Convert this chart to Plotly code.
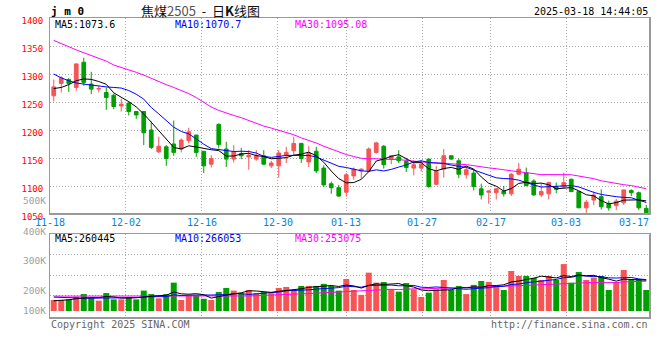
import plotly.graph_objects as go

# ---------------- data ----------------
tick_index = [0, 10, 20, 30, 39, 49, 58, 68, 78]
tick_labels = ["11-18", "12-02", "12-16", "12-30", "01-13", "01-27", "02-17", "03-03", "03-17"]

opens = [1261, 1283, 1290, 1276, 1321, 1282, 1273, 1267, 1262, 1243,
         1248, 1233, 1233, 1200, 1161, 1170, 1175, 1166, 1181, 1191,
         1162, 1139, 1210, 1166, 1148, 1158, 1152, 1148, 1154, 1136,
         1136, 1155, 1163, 1176, 1143, 1162, 1132, 1104, 1097, 1089,
         1118, 1127, 1127, 1160, 1171, 1148, 1152, 1144, 1132, 1132,
         1148, 1103, 1130, 1154, 1145, 1120, 1123, 1095, 1089, 1088,
         1091, 1086, 1121, 1124, 1109, 1084, 1086, 1099, 1098, 1112,
         1090, 1061, 1075, 1081, 1069, 1065, 1070, 1092, 1088, 1060]
highs = [1290, 1296, 1293, 1319, 1329, 1304, 1279, 1276, 1265, 1256,
         1251, 1233, 1233, 1215, 1188, 1173, 1217, 1185, 1204, 1191,
         1162, 1155, 1212, 1179, 1173, 1168, 1164, 1164, 1164, 1145,
         1164, 1170, 1188, 1177, 1171, 1170, 1137, 1108, 1102, 1123,
         1133, 1132, 1169, 1179, 1173, 1155, 1164, 1149, 1146, 1146,
         1149, 1136, 1166, 1155, 1149, 1135, 1129, 1104, 1092, 1096,
         1100, 1123, 1141, 1133, 1112, 1105, 1108, 1106, 1124, 1113,
         1090, 1075, 1090, 1094, 1074, 1077, 1093, 1094, 1090, 1066]
lows = [1251, 1267, 1268, 1270, 1279, 1264, 1267, 1236, 1237, 1233,
        1226, 1220, 1173, 1166, 1159, 1136, 1154, 1160, 1176, 1152,
        1123, 1133, 1167, 1134, 1142, 1148, 1129, 1145, 1137, 1132,
        1115, 1141, 1154, 1141, 1134, 1123, 1098, 1086, 1081, 1081,
        1111, 1113, 1126, 1158, 1131, 1139, 1141, 1125, 1119, 1126,
        1097, 1102, 1115, 1147, 1114, 1113, 1092, 1076, 1068, 1076,
        1081, 1082, 1120, 1099, 1083, 1080, 1076, 1087, 1096, 1089,
        1061, 1052, 1066, 1058, 1056, 1057, 1066, 1082, 1057, 1050]
closes = [1277, 1293, 1283, 1318, 1285, 1273, 1274, 1258, 1242, 1246,
          1233, 1227, 1195, 1169, 1171, 1149, 1160, 1182, 1197, 1160,
          1136, 1149, 1174, 1148, 1161, 1154, 1155, 1154, 1139, 1141,
          1159, 1160, 1176, 1149, 1158, 1127, 1102, 1097, 1082, 1120,
          1130, 1130, 1166, 1177, 1138, 1154, 1145, 1133, 1138, 1139,
          1099, 1126, 1154, 1148, 1121, 1129, 1099, 1084, 1091, 1095,
          1086, 1121, 1130, 1101, 1084, 1090, 1106, 1094, 1106, 1090,
          1061, 1071, 1084, 1063, 1061, 1073, 1093, 1088, 1061, 1052]

ma5 = [1274, 1276, 1281, 1288, 1291.2, 1290.4, 1286.6, 1281.6, 1266.4, 1258.6,
       1250.6, 1241.2, 1228.6, 1214.0, 1199.0, 1182.2, 1168.8, 1166.2, 1171.8, 1169.6,
       1167.0, 1164.8, 1163.2, 1153.4, 1153.6, 1157.2, 1158.4, 1154.4, 1152.6, 1148.6,
       1149.6, 1150.6, 1155.0, 1157.0, 1160.4, 1154.0, 1142.4, 1126.6, 1113.2, 1105.6,
       1106.2, 1111.8, 1125.6, 1144.6, 1148.2, 1153.0, 1156.0, 1149.4, 1141.6, 1141.8,
       1130.8, 1127.0, 1131.2, 1133.2, 1129.6, 1135.6, 1130.2, 1116.2, 1104.8, 1099.6,
       1091.0, 1095.4, 1104.6, 1106.6, 1104.4, 1105.2, 1102.2, 1095.0, 1096.0, 1097.2,
       1091.4, 1084.4, 1082.4, 1073.8, 1068.0, 1070.4, 1074.8, 1075.6, 1075.2, 1073.4]
ma10 = [1300, 1293, 1288, 1284, 1282, 1280, 1279, 1277, 1276, 1274.9,
        1270.5, 1263.9, 1255.1, 1240.2, 1228.8, 1216.4, 1205.0, 1197.4, 1192.9, 1184.3,
        1174.6, 1166.8, 1164.7, 1162.6, 1161.6, 1162.1, 1161.6, 1158.8, 1153.0, 1151.1,
        1153.4, 1154.5, 1154.7, 1154.8, 1154.5, 1151.8, 1146.5, 1140.8, 1135.1, 1133.0,
        1130.1, 1127.1, 1126.1, 1128.9, 1126.9, 1129.6, 1133.9, 1137.5, 1143.1, 1145.0,
        1141.9, 1141.5, 1140.3, 1137.4, 1135.7, 1133.2, 1128.6, 1123.7, 1119.0, 1114.6,
        1113.3, 1112.8, 1110.4, 1105.7, 1102.0, 1098.1, 1098.8, 1099.8, 1101.3, 1100.8,
        1098.3, 1093.3, 1088.7, 1084.9, 1082.6, 1080.9, 1079.6, 1079.0, 1074.5, 1070.7]
ma30 = [1360, 1354, 1348, 1343, 1338, 1333, 1328, 1323, 1316, 1312,
        1307, 1303, 1298, 1292, 1286, 1281, 1276, 1271, 1265, 1258,
        1249, 1241, 1235, 1230, 1226, 1222, 1217, 1211, 1207, 1203.4,
        1199.5, 1195.1, 1191.5, 1185.9, 1181.6, 1176.8, 1171.0, 1165.7, 1160.3, 1156.1,
        1152.7, 1149.5, 1148.5, 1148.8, 1147.7, 1147.8, 1147.3, 1145.7, 1143.7, 1143.0,
        1141.8, 1141.0, 1140.4, 1140.4, 1139.0, 1138.2, 1136.3, 1134.0, 1132.4, 1130.9,
        1128.4, 1127.1, 1125.6, 1124.0, 1121.5, 1120.3, 1120.4, 1120.3, 1121.1, 1120.1,
        1117.8, 1115.9, 1113.1, 1109.3, 1106.8, 1104.1, 1102.3, 1100.8, 1098.3, 1095.1]

volume = [78, 78, 81, 94, 107, 89, 75, 112, 81, 81,
          91, 81, 124, 107, 86, 107, 163, 78, 98, 98,
          84, 78, 117, 137, 124, 111, 127, 111, 117, 111,
          137, 142, 127, 147, 147, 147, 157, 147, 124, 181,
          127, 103, 212, 163, 166, 132, 119, 161, 130, 93,
          114, 130, 176, 127, 147, 107, 152, 171, 166, 147,
          127, 220, 196, 196, 186, 176, 196, 176, 254, 163,
          215, 176, 187, 196, 127, 166, 225, 176, 181, 127]          # thousands
vol_ma5 = [74, 76, 79, 84, 87.6, 89.8, 89.2, 95.4, 92.8, 87.6,
           88.0, 89.2, 91.6, 96.8, 97.8, 101.0, 117.4, 108.2, 106.4, 108.8,
           104.2, 87.2, 95.0, 102.8, 108.0, 113.4, 123.2, 122.0, 118.0, 115.4,
           120.6, 123.6, 126.8, 132.8, 140.0, 142.0, 145.0, 149.0, 144.4, 151.2,
           147.2, 136.4, 149.4, 157.2, 154.2, 155.2, 158.4, 148.2, 141.6, 127.0,
           123.4, 125.6, 128.6, 128.0, 138.8, 137.4, 141.8, 140.8, 148.6, 148.6,
           152.6, 166.2, 171.2, 177.2, 185.0, 194.8, 190.0, 186.0, 197.6, 193.0,
           200.8, 196.8, 199.0, 187.4, 180.2, 170.4, 180.2, 178.0, 175.0, 175.0]
vol_ma10 = [92, 90, 88, 87, 87, 87, 87, 87, 87, 87.6,
            88.9, 89.2, 93.5, 94.8, 92.7, 94.5, 103.3, 99.9, 101.6, 103.3,
            102.6, 102.3, 101.6, 104.6, 108.4, 108.8, 105.2, 108.5, 110.4, 111.7,
            117.0, 123.4, 124.4, 125.4, 127.7, 131.3, 134.3, 137.9, 138.6, 145.6,
            144.6, 140.7, 149.2, 150.8, 152.7, 151.2, 147.4, 148.8, 149.4, 140.6,
            139.3, 142.0, 138.4, 134.8, 132.9, 130.4, 133.7, 134.7, 138.3, 143.7,
            145.0, 154.0, 156.0, 162.9, 166.8, 173.7, 178.1, 178.6, 187.4, 189.0,
            197.8, 193.4, 192.5, 192.5, 186.6, 185.6, 188.5, 188.5, 181.2, 177.6]
vol_ma30 = [97, 97, 97, 97, 97, 97, 97, 97, 97, 97,
            96, 96, 96, 96, 96, 96, 96, 96, 95, 95,
            95, 95, 96, 96, 97, 97, 98, 99, 100, 100.9,
            102.8, 105.0, 106.5, 108.3, 109.6, 111.5, 114.3, 115.4, 116.9, 120.2,
            121.4, 122.1, 125.1, 126.9, 129.6, 130.4, 129.0, 131.7, 132.8, 132.6,
            133.6, 135.4, 137.3, 137.0, 137.8, 137.6, 138.5, 140.5, 142.1, 143.3,
            143.0, 145.6, 147.9, 149.5, 150.8, 151.8, 153.1, 154.0, 158.4, 157.8,
            160.7, 163.1, 162.3, 163.4, 162.1, 163.2, 166.8, 167.3, 169.0, 170.1]

price_ticks = [1050, 1100, 1150, 1200, 1250, 1300, 1350, 1400]
vol_ticks = [100, 200, 300, 400]
vol_tick_labels = ["500K", "400K", "300K", "200K", "100K"]
vol_base = 24

ma_labels = ["MA5:1073.6", "MA10:1070.7", "MA30:1095.08"]
vol_ma_labels = ["MA5:260445", "MA10:266053", "MA30:253075"]

# ---------------- style ----------------
RED = "#F55555"
GREEN = "#009F00"
GRID = "#A8A8A8"
BORDER = "#999999"
MONO = "DejaVu Sans Mono"
W, H = 660, 360
L, R, T, B = 50, 650, 18, 318

def fx(px):
    return (px - L) / (R - L)

def fy(py):
    return (B - py) / (B - T)

idx = list(range(len(closes)))
grid_x = [i * len(closes) / (len(closes) - 1) - 0.5 for i in tick_index[1:-1]]
bar_colors = [RED if c >= o else GREEN for o, c in zip(opens, closes)]

fig = go.Figure()

fig.add_trace(go.Candlestick(
    x=idx, open=opens, high=highs, low=lows, close=closes,
    increasing=dict(line=dict(color=RED, width=1), fillcolor=RED),
    decreasing=dict(line=dict(color=GREEN, width=1), fillcolor=GREEN),
    whiskerwidth=0, xaxis="x", yaxis="y", showlegend=False, hoverinfo="skip"))

for series, color in [(ma30, "#FF00FF"), (ma10, "#0000FF"), (ma5, "#000000")]:
    fig.add_trace(go.Scatter(x=idx, y=series, mode="lines", line=dict(color=color, width=1),
                             xaxis="x", yaxis="y", showlegend=False, hoverinfo="skip"))

fig.add_trace(go.Bar(x=idx, y=[v - vol_base for v in volume], base=vol_base,
                     marker=dict(color=bar_colors, line=dict(width=0)), width=0.8,
                     xaxis="x2", yaxis="y2", showlegend=False, hoverinfo="skip"))

for series, color in [(vol_ma30, "#FF00FF"), (vol_ma10, "#0000FF"), (vol_ma5, "#000000")]:
    fig.add_trace(go.Scatter(x=idx, y=series, mode="lines", line=dict(color=color, width=1),
                             xaxis="x2", yaxis="y2", showlegend=False, hoverinfo="skip"))

xcommon = dict(range=[-0.5, len(closes) - 0.5], tickvals=grid_x, showticklabels=False,
               showgrid=True, gridcolor=GRID, griddash="1px,2px", gridwidth=1,
               zeroline=False, showline=True, mirror=True, linecolor=BORDER, linewidth=1,
               ticks="", fixedrange=True)

price_dom = [fy(214), 1]
vol_dom = [0, fy(234.3)]

fig.update_layout(
    width=W, height=H,
    margin=dict(l=L, r=W - R, t=T, b=H - B),
    paper_bgcolor="white", plot_bgcolor="white",
    boxgap=0.3,
    xaxis=dict(**xcommon, anchor="y", rangeslider=dict(visible=False)),
    xaxis2=dict(**xcommon, anchor="y2", matches="x"),
    yaxis=dict(domain=price_dom, range=[1050, 1400], tickvals=price_ticks,
               ticktext=[str(v) for v in price_ticks],
               tickfont=dict(family=MONO, size=9, color="#FF0000"),
               ticklabelstandoff=4, ticklabelshift=3,
               showgrid=True, gridcolor=GRID, griddash="1px,2px", gridwidth=1,
               zeroline=False, showline=True, mirror=True, linecolor=BORDER, linewidth=1,
               ticks="", anchor="x", fixedrange=True),
    yaxis2=dict(domain=vol_dom, range=[-10.3, 400], tickvals=vol_ticks,
                showticklabels=False,
                showgrid=True, gridcolor=GRID, griddash="1px,2px", gridwidth=1,
                zeroline=False, showline=True, mirror=True, linecolor=BORDER, linewidth=1,
                ticks="", anchor="x2", fixedrange=True),
    font=dict(family=MONO, size=10, color="#000"),
)

# heavier right / bottom frame edges, as in the reference
shapes = []
for lo, hi in [price_dom, vol_dom]:
    shapes.append(dict(type="line", xref="paper", yref="paper", x0=0, x1=1, y0=lo, y1=lo,
                       line=dict(color=BORDER, width=2)))
    shapes.append(dict(type="line", xref="paper", yref="paper", x0=1, x1=1, y0=lo, y1=hi,
                       line=dict(color=BORDER, width=2)))
fig.update_layout(shapes=shapes)

ann = []

def text(px, py, s, color="#000", size=10, anchor="left", family=MONO):
    ann.append(dict(x=fx(px), y=fy(py), xref="paper", yref="paper", text=s, showarrow=False,
                    xanchor=anchor, yanchor="middle", borderpad=0,
                    font=dict(family=family, size=size, color=color)))

# header
text(50, 12, "<b>j m 0</b>", size=11)
text(140, 11, '焦煤<span style="color:#555">2505</span>&nbsp; -&nbsp; 日<b>K</b>线图', color="#111",
     size=13, family="Noto Sans CJK SC")
text(649, 12, "2025-03-18 14:44:05", anchor="right")

# MA labels
for px, s, c in zip([54, 174, 294], ma_labels, ["#000", "#0000FF", "#FF00FF"]):
    text(px, 24, s, color=c)
for px, s, c in zip([54, 174, 294], vol_ma_labels, ["#000", "#0000FF", "#FF00FF"]):
    text(px, 238.5, s, color=c)

# volume axis labels (as placed in the reference)
for py, s in zip([200.3, 231.5, 260.8, 290.3, 310.3], vol_tick_labels):
    text(47, py, s, color="#A0A0A0", size=9.5, anchor="right")

# date labels
for i, s in zip(tick_index, tick_labels):
    xi = i * len(closes) / (len(closes) - 1) - 0.5
    if i == tick_index[-1]:
        ann.append(dict(x=1, y=fy(222.3), xref="paper", yref="paper", text=s, showarrow=False,
                        xanchor="right", yanchor="middle", borderpad=0,
                        font=dict(family=MONO, size=10, color="#0A84D0")))
    else:
        ann.append(dict(x=xi, y=fy(222.3), xref="x", yref="paper", text=s, showarrow=False,
                        xanchor="center", yanchor="middle", borderpad=0,
                        font=dict(family=MONO, size=10, color="#0A84D0")))

# footer
text(50, 324, "Copyright 2025 SINA.COM", color="#666")
text(649, 324, "http://finance.sina.com.cn", color="#666", anchor="right")

fig.update_layout(annotations=ann)
fig.write_html("out.html", config={"displayModeBar": False, "staticPlot": True},
               post_script="document.body.style.margin='0';")
